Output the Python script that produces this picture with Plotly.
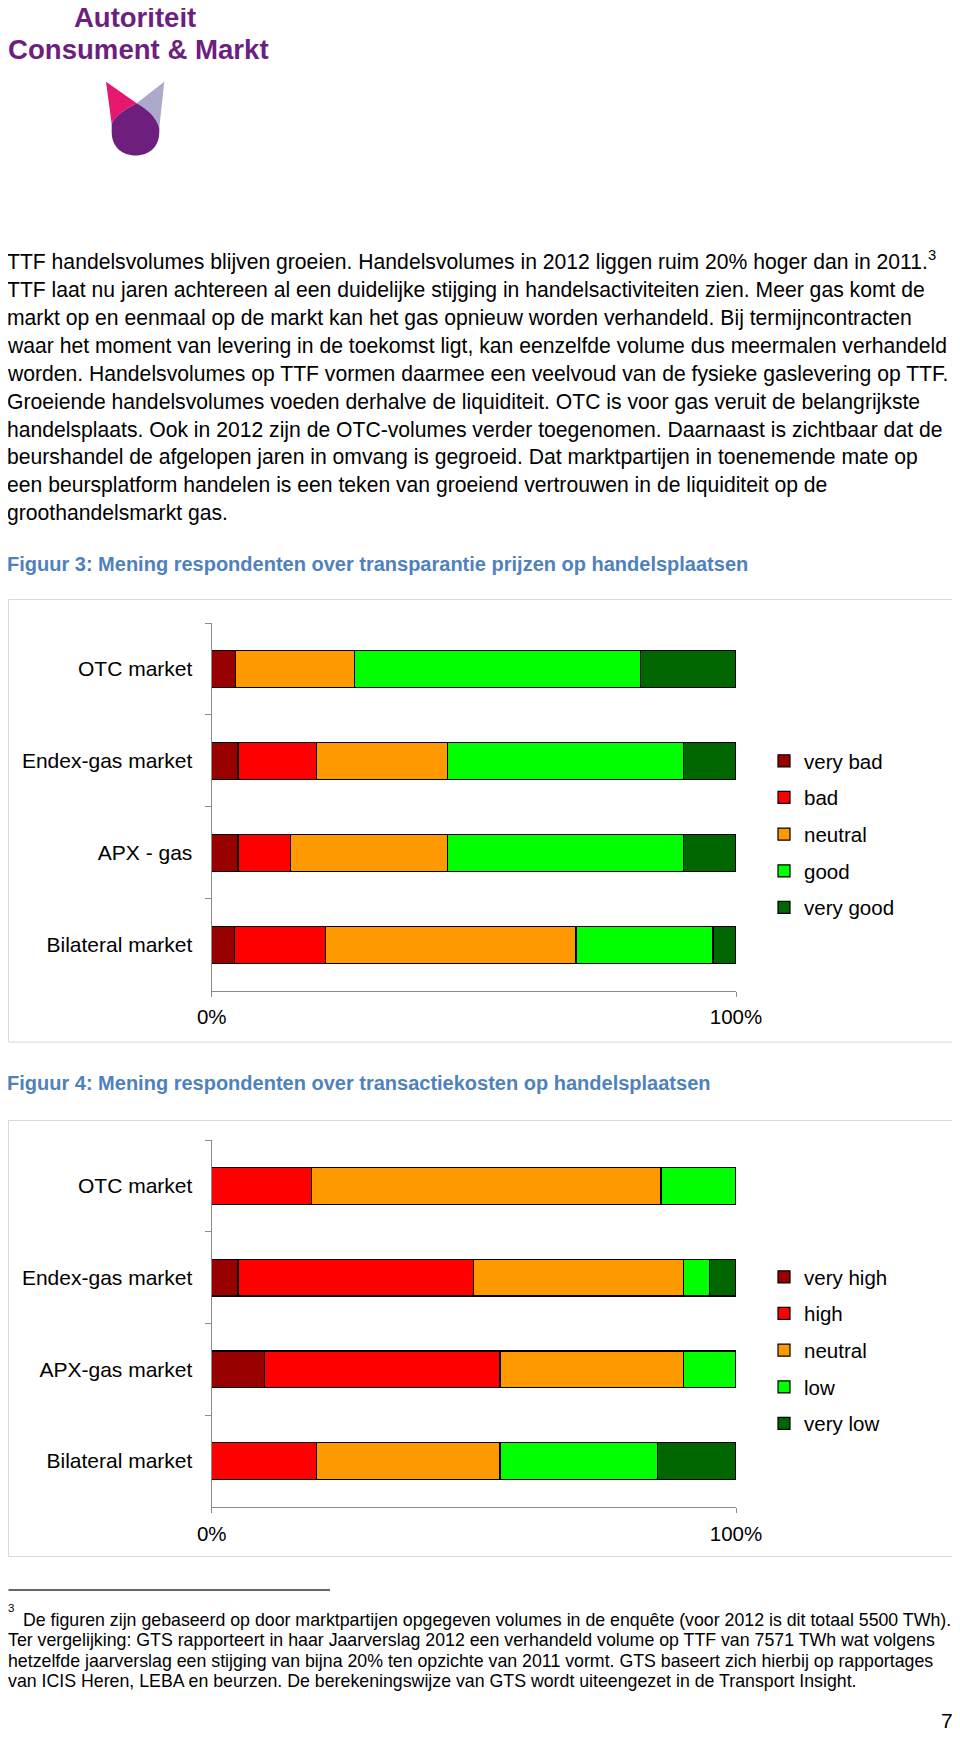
import plotly.graph_objects as go

W, H = 960, 1740
OFF = 8  # the page body margin: screen = figure + OFF
FONT = "Liberation Sans, Arial, sans-serif"


def px(x):
    return (x - OFF) / W


def py(y):
    return 1 - (y - OFF) / H


# ---------------- data ----------------
markets1 = ["OTC market", "Endex-gas market", "APX - gas", "Bilateral market"]
cats1 = ["very bad", "bad", "neutral", "good", "very good"]
very_bad1 = [4.5, 5.0, 5.0, 4.3]
bad1 = [0.0, 15.0, 10.0, 17.4]
neutral1 = [22.7, 25.0, 30.0, 47.8]
good1 = [54.6, 45.0, 45.0, 26.1]
very_good1 = [18.2, 10.0, 10.0, 4.4]

markets2 = ["OTC market", "Endex-gas market", "APX-gas market", "Bilateral market"]
cats2 = ["very high", "high", "neutral", "low", "very low"]
very_high2 = [0.0, 5.0, 10.0, 0.0]
high2 = [19.0, 45.0, 45.0, 20.0]
neutral2 = [66.7, 40.0, 35.0, 35.0]
low2 = [14.3, 5.0, 10.0, 30.0]
very_low2 = [0.0, 5.0, 0.0, 15.0]

xticks = [0, 100]
xticklabels = ["0%", "100%"]

colors = ["#990000", "#ff0000", "#ff9900", "#00ff00", "#006600"]

paragraph = [
    "TTF handelsvolumes blijven groeien. Handelsvolumes in 2012 liggen ruim 20% hoger dan in 2011.<sup>3</sup>",
    "TTF laat nu jaren achtereen al een duidelijke stijging in handelsactiviteiten zien. Meer gas komt de",
    "markt op en eenmaal op de markt kan het gas opnieuw worden verhandeld. Bij termijncontracten",
    "waar het moment van levering in de toekomst ligt, kan eenzelfde volume dus meermalen verhandeld",
    "worden. Handelsvolumes op TTF vormen daarmee een veelvoud van de fysieke gaslevering op TTF.",
    "Groeiende handelsvolumes voeden derhalve de liquiditeit. OTC is voor gas veruit de belangrijkste",
    "handelsplaats. Ook in 2012 zijn de OTC-volumes verder toegenomen. Daarnaast is zichtbaar dat de",
    "beurshandel de afgelopen jaren in omvang is gegroeid. Dat marktpartijen in toenemende mate op",
    "een beursplatform handelen is een teken van groeiend vertrouwen in de liquiditeit op de",
    "groothandelsmarkt gas.",
]

footnote = [
    "De figuren zijn gebaseerd op door marktpartijen opgegeven volumes in de enquête (voor 2012 is dit totaal 5500 TWh).",
    "Ter vergelijking: GTS rapporteert in haar Jaarverslag 2012 een verhandeld volume op TTF van 7571 TWh wat volgens",
    "hetzelfde jaarverslag een stijging van bijna 20% ten opzichte van 2011 vormt. GTS baseert zich hierbij op rapportages",
    "van ICIS Heren, LEBA en beurzen. De berekeningswijze van GTS wordt uiteengezet in de Transport Insight.",
]

title3 = "Figuur 3: Mening respondenten over transparantie prijzen op handelsplaatsen"
title4 = "Figuur 4: Mening respondenten over transactiekosten op handelsplaatsen"

# ---------------- figure ----------------
fig = go.Figure()

series1 = [very_bad1, bad1, neutral1, good1, very_good1]
series2 = [very_high2, high2, neutral2, low2, very_low2]

for name, vals, col in zip(cats1, series1, colors):
    fig.add_trace(go.Bar(
        y=markets1, x=vals, name=name, orientation="h", width=0.4,
        marker=dict(color=col, line=dict(color="#000000", width=1.2)),
        xaxis="x", yaxis="y", legend="legend", legendgroup="a_" + name,
        hoverinfo="x+y+name",
    ))

for name, vals, col in zip(cats2, series2, colors):
    fig.add_trace(go.Bar(
        y=markets2, x=vals, name=name, orientation="h", width=0.4,
        marker=dict(color=col, line=dict(color="#000000", width=1.2)),
        xaxis="x2", yaxis="y2", legend="legend2", legendgroup="b_" + name,
        hoverinfo="x+y+name",
    ))

AX = "#8c8c8c"
xdom = [px(211.7), px(736)]


def xax(anchor):
    return dict(
        domain=xdom, range=[0, 100], anchor=anchor, tickvals=xticks, ticktext=xticklabels,
        ticks="outside", ticklen=5, tickcolor=AX, showline=True, linecolor=AX, linewidth=1.3,
        showgrid=False, zeroline=False, fixedrange=True, automargin=False,
        tickfont=dict(family=FONT, size=20.5, color="#000000"), ticklabelstandoff=3,
    )


def yax(anchor, dom, cats):
    return dict(
        domain=dom, type="category", categoryorder="array", categoryarray=cats,
        range=[3.5, -0.5], anchor=anchor, ticks="outside", ticklen=6, tickcolor=AX,
        tickson="boundaries", showline=True, linecolor=AX, linewidth=1.3, showgrid=False,
        zeroline=False, fixedrange=True, ticklabelstandoff=14, automargin=False,
        tickfont=dict(family=FONT, size=21, color="#000000"),
    )


def leg(top):
    return dict(
        x=px(764), y=py(top), xanchor="left", yanchor="top", orientation="v",
        font=dict(family=FONT, size=20.5, color="#000000"), bgcolor="rgba(0,0,0,0)",
        traceorder="grouped", tracegroupgap=7, itemclick=False, itemdoubleclick=False,
    )


annotations = []
shapes = []


def text(x, baseline, s, size, color="#000000", bold=False, xanchor="left"):
    annotations.append(dict(
        x=px(x), y=py(baseline + 0.212 * size + 1), xref="paper", yref="paper",
        xanchor=xanchor, yanchor="bottom", showarrow=False, text=s, align="left",
        font=dict(family=FONT, size=size, color=color, weight="bold" if bold else "normal"),
    ))


# logo
PURPLE = "#6d1f7f"
text(72, 28, "Autoriteit", 27.5, PURPLE, bold=True)
text(6, 60.5, "Consument &amp; Markt", 27.6, PURPLE, bold=True)


def P(x, y):
    return f"{px(x):.5f},{py(y):.5f}"


pink = f"M{P(106,81.7)} L{P(136.7,103.3)} C{P(126,109)} {P(114,116)} {P(111.7,124)} Z"
lav = f"M{P(164.3,81.7)} L{P(136.7,103.3)} C{P(147,109)} {P(156,117)} {P(159.3,128)} Z"
purple = (f"M{P(136.7,103.3)} C{P(126,109)} {P(114,116)} {P(111.7,124)} L{P(111.7,132)} "
          f"C{P(111.7,147)} {P(122,155.5)} {P(135.5,155.5)} C{P(149,155.5)} {P(159.3,147)} {P(159.3,132)} "
          f"L{P(159.3,128)} C{P(156,117)} {P(147,109)} {P(136.7,103.3)} Z")
for pth, col in [(pink, "#e5176f"), (lav, "#aca9cb"), (purple, "#6e1f7e")]:
    shapes.append(dict(type="path", xref="paper", yref="paper", path=pth,
                       fillcolor=col, line=dict(width=0), layer="above"))

# paragraph
for i, line in enumerate(paragraph):
    text(5, 270.7 + 27.9 * i, line, 21.15)

# chart titles
BLUE = "#4f81bd"
text(5, 571.5, title3, 20, BLUE, bold=True)
text(5, 1090.5, title4, 20, BLUE, bold=True)

# chart frames
for y0, y1 in [(599.5, 1042), (1120.5, 1556.5)]:
    shapes.append(dict(type="rect", xref="paper", yref="paper", x0=px(8.5), x1=px(955.5),
                       y0=py(y1), y1=py(y0), line=dict(color="#d9d9d9", width=1),
                       fillcolor="rgba(0,0,0,0)", layer="below"))

# footnote
shapes.append(dict(type="line", xref="paper", yref="paper", x0=px(8.5), x1=px(330),
                   y0=py(1590), y1=py(1590), line=dict(color="#333333", width=1.3)))
text(6, 1613, "3", 11.5)
for i, line in enumerate(footnote):
    text(6 if i else 21, 1627 + 20.5 * i, line, 17.75)

# page number
text(955, 1729, "7", 21, xanchor="right")

fig.update_layout(
    width=W, height=H, margin=dict(l=0, r=0, t=0, b=0, autoexpand=False),
    paper_bgcolor="#ffffff", plot_bgcolor="#ffffff",
    barmode="stack", bargap=0.6, showlegend=True,
    font=dict(family=FONT, color="#000000"),
    xaxis=xax("y"), yaxis=yax("x", [py(990.7), py(623)], markets1),
    xaxis2=xax("y2"), yaxis2=yax("x2", [py(1507), py(1140)], markets2),
    legend=leg(741), legend2=leg(1257),
    annotations=annotations, shapes=shapes,
)

fig.write_html("out.html")
